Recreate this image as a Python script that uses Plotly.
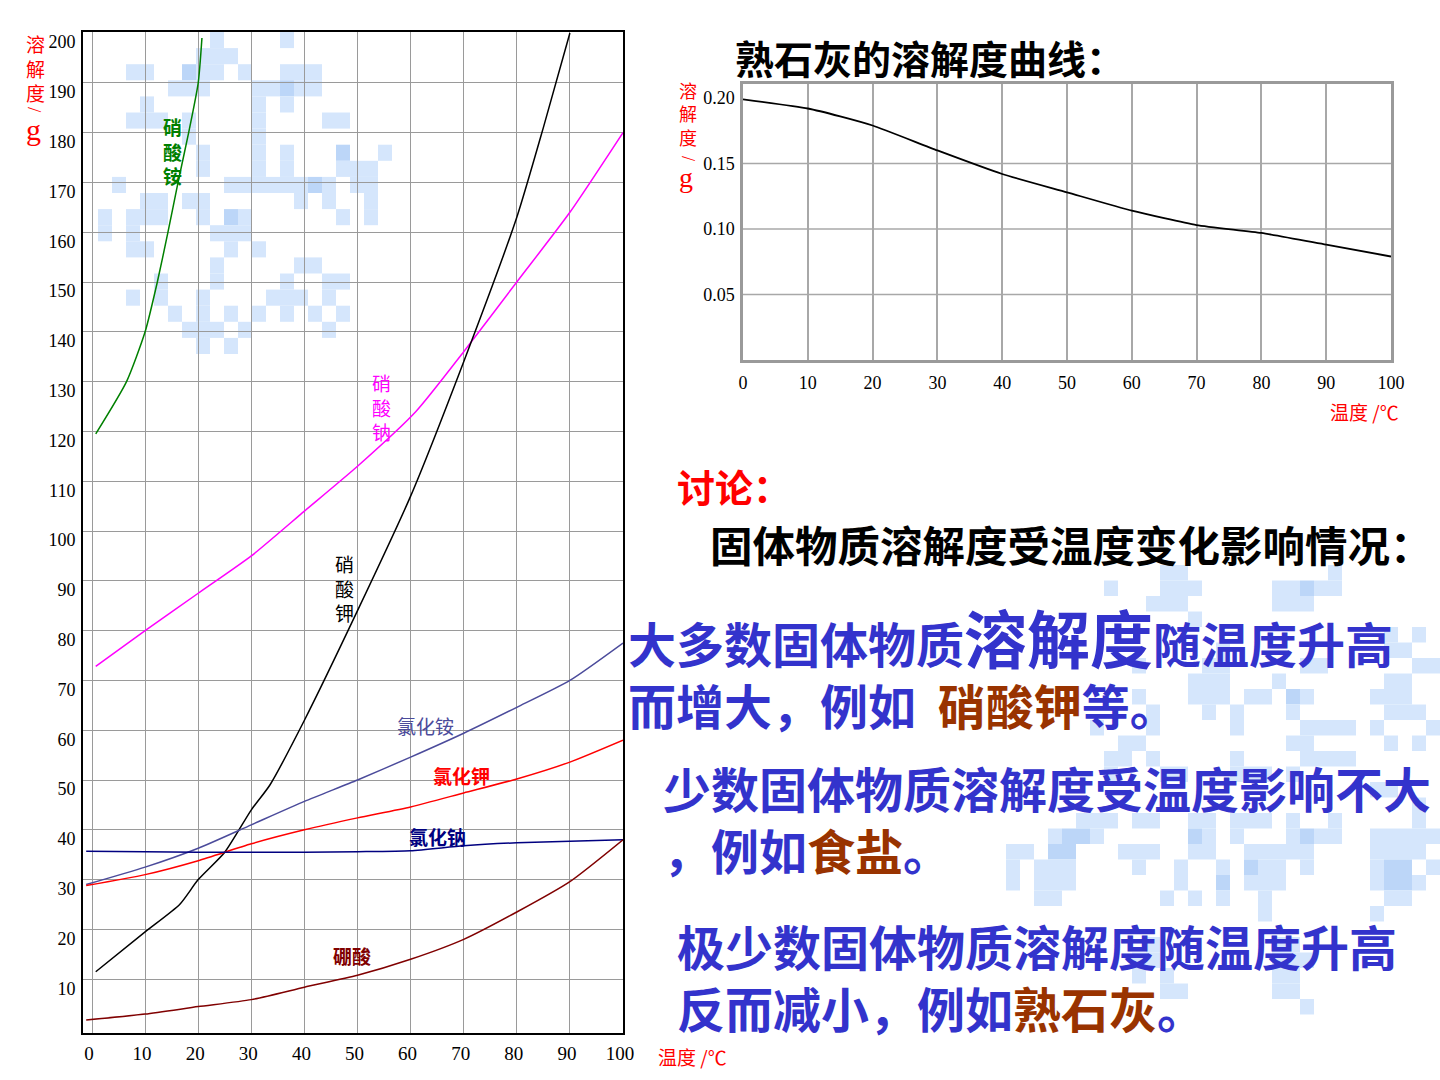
import plotly.graph_objects as go

W, H = 1440, 1080

# ---------------- data: left chart (solubility, g / 100 g water) ----------------
t_nh4no3 = [0.7, 6.5, 10, 12.3, 14.3, 16.2, 18.2, 20, 20.7]
s_nh4no3 = [119.5, 130, 140, 150, 160, 170, 180, 190, 199]

t_nano3 = [0.7, 10, 20, 30, 40, 50, 61, 70, 80, 90, 100]
s_nano3 = [72.8, 80, 87.5, 95, 104, 113, 124, 136, 150, 164, 180]

t_kno3 = [0.7, 10, 16.5, 20, 25, 30, 33.5, 40, 50, 60, 70, 80, 85, 90]
s_kno3 = [11.5, 19.5, 25, 30, 35.5, 44, 49, 62, 84, 107, 134, 163, 181, 200]

t_common = [-1.1, 10, 20, 30, 40, 50, 60, 70, 80, 90, 100]
s_nh4cl = [29, 32.5, 36.3, 41, 45.7, 50, 54.6, 59.4, 64.6, 70, 77.5]
s_kcl = [28.8, 31, 33.8, 37.2, 40, 42.4, 44.6, 47.4, 50.2, 53.6, 58]
s_nacl = [35.7, 35.6, 35.5, 35.5, 35.5, 35.6, 35.8, 36.8, 37.4, 37.7, 38]
s_h3bo3 = [1.8, 3, 4.5, 5.9, 8.4, 10.8, 14, 18, 23.5, 29.6, 38]

left_xticks = [0, 10, 20, 30, 40, 50, 60, 70, 80, 90, 100]
left_yticks = [10, 20, 30, 40, 50, 60, 70, 80, 90, 100, 110, 120, 130, 140,
               150, 160, 170, 180, 190, 200]

# curve name labels: (text, x, y, colour, bold, vertical)
curve_labels = [
    ("硝酸铵", 15.1, 176.3, "#008000", True, True),
    ("硝酸钠", 54.5, 125.0, "#FF00FF", False, True),
    ("硝酸钾", 47.6, 88.6, "#000000", False, True),
    ("氯化铵", 62.8, 61.0, "#4B4B9B", False, False),
    ("氯化钾", 69.6, 50.9, "#FF0000", True, False),
    ("氯化钠", 65.1, 38.6, "#000080", True, False),
    ("硼酸", 49.0, 14.7, "#800000", True, False),
]

# ---------------- data: right chart (熟石灰) ----------------
t_caoh2 = [0, 10, 15, 20, 30, 40, 50, 60, 70, 80, 90, 100]
s_caoh2 = [0.199, 0.192, 0.186, 0.179, 0.160, 0.142, 0.128, 0.114, 0.103,
           0.097, 0.088, 0.079]
right_xticks = [0, 10, 20, 30, 40, 50, 60, 70, 80, 90, 100]
right_yticks = [0.05, 0.10, 0.15, 0.20]

SERIF = "Liberation Serif, Times New Roman, serif"
CJK = "Noto Sans CJK SC, sans-serif"
BLUE = "#3333CC"
BROWN = "#993300"


def px(x):
    return x / W


def py(y):
    return 1 - y / H


fig = go.Figure()

series = [
    (t_nh4no3, s_nh4no3, "#008000"),
    (t_nano3, s_nano3, "#FF00FF"),
    (t_kno3, s_kno3, "#000000"),
    (t_common, s_nh4cl, "#4B4B9B"),
    (t_common, s_kcl, "#FF0000"),
    (t_common, s_nacl, "#000080"),
    (t_common, s_h3bo3, "#800000"),
]
for tx, sy, col in series:
    fig.add_trace(go.Scatter(x=tx, y=sy, mode="lines",
                             line=dict(color=col, width=1.5, shape="spline", smoothing=0.6),
                             xaxis="x", yaxis="y", showlegend=False, hoverinfo="skip"))

fig.add_trace(go.Scatter(x=t_caoh2, y=s_caoh2, mode="lines",
                         line=dict(color="#000000", width=1.8, shape="spline", smoothing=0.5),
                         xaxis="x2", yaxis="y2", showlegend=False, hoverinfo="skip"))

# ---------------- background mosaic (decoration) ----------------
shapes = []
LIGHT = "#D5E6FC"
DARK = "#BCD6F8"
left_cells = {
    0: [9, 14], 1: [8, 9, 10], 2: [3, 4, 7, 8, 9, 11, 14, 15, 16],
    3: [6, 7, 8, 12, 13, 14, 15, 16], 4: [4, 12, 14], 5: [3, 4, 5, 7, 12, 17, 18],
    6: [7, 12], 7: [8, 12, 14, 18, 21], 8: [8, 12, 14, 18, 19, 20],
    9: [2, 10, 11, 12, 13, 14, 15, 16, 17, 19, 20], 10: [4, 5, 7, 8, 15, 17, 20],
    11: [1, 3, 4, 5, 8, 10, 11, 18, 20], 12: [1, 3, 9, 10, 11], 13: [3, 4, 10, 12],
    14: [9, 15, 16], 15: [5, 9, 14, 17, 18], 16: [3, 5, 8, 13, 14, 15, 17],
    17: [6, 8, 10, 12, 14, 16, 18], 18: [7, 8, 9, 11, 17], 19: [8, 10],
}
left_dark = {(2, 7), (3, 14), (7, 18), (9, 16), (11, 10)}
right_cells = {
    0: [11, 12, 23], 1: [7, 11, 12, 13, 19, 20, 21, 22, 23], 2: [10, 11, 12, 19, 20, 21],
    3: [13], 4: [27, 29], 5: [15, 27, 28], 6: [9, 14, 15, 21, 22, 29, 30],
    7: [13, 14, 15, 19, 27, 28], 8: [9, 13, 14, 15, 17, 18, 20, 21, 26, 27, 28],
    9: [10, 14, 16, 20, 27, 28, 29], 10: [6, 10, 16, 21, 22, 23, 24, 26, 30],
    11: [8, 9, 20, 21, 27, 29], 12: [7, 8, 10, 16, 21, 22, 23, 24],
    13: [7, 11, 12, 16, 17, 18, 20], 14: [26, 27], 15: [29],
    16: [5, 6, 7, 9, 10, 13, 14, 16, 17, 18, 20, 23, 29],
    17: [3, 4, 5, 6, 13, 14, 16, 20, 21, 22, 23, 26, 27, 28, 29, 30],
    18: [0, 1, 3, 4, 8, 9, 10, 13, 14, 17, 18, 19, 20, 21, 26, 27, 28, 29],
    19: [0, 2, 3, 4, 9, 12, 15, 17, 18, 19, 21, 26, 27, 28, 30],
    20: [0, 2, 3, 4, 12, 15, 17, 18, 19, 26, 27, 28, 29],
    21: [2, 3, 11, 13, 15, 18, 27, 28], 22: [18, 26],
    24: [10, 19, 20], 25: [9, 10, 19, 20, 21], 26: [9, 11, 19, 20],
    27: [11, 12, 19, 20], 28: [21],
}
right_dark = {(1, 21), (17, 4), (17, 5), (17, 13), (17, 21), (18, 3), (18, 4),
              (19, 17), (19, 27), (19, 28), (20, 15), (20, 27), (20, 28), (8, 20)}


def add_mosaic(cells, dark, x0, y0, cw, ch):
    for r, cols in cells.items():
        for c in cols:
            xa = x0 + c * cw
            ya = y0 + r * ch
            shapes.append(dict(type="rect", xref="paper", yref="paper", layer="below",
                               x0=px(xa), x1=px(xa + cw), y0=py(ya + ch), y1=py(ya),
                               line=dict(width=0),
                               fillcolor=DARK if (r, c) in dark else LIGHT))


add_mosaic(left_cells, left_dark, 84, 32, 14, 16.1)
add_mosaic(right_cells, right_dark, 1006, 565, 14, 15.5)

# horizontal grid lines of the right chart
for v in [0.05, 0.10, 0.15]:
    shapes.append(dict(type="line", xref="x2 domain", yref="y2", x0=0, x1=1, y0=v, y1=v,
                       line=dict(color="#A8A8A8", width=1.5), layer="below"))

# ---------------- annotations ----------------
ann = []
for text, x, y, col, bold, vert in curve_labels:
    t = "<br>".join(text) if vert else text
    ann.append(dict(x=x, y=y, xref="x", yref="y", text=t, showarrow=False,
                    font=dict(family=CJK, size=19, color=col,
                              weight="bold" if bold else "normal"),
                    xanchor="center", yanchor="middle"))


# axis titles (stacked characters)
def stacked_title(xc, yc3, yslash, yg, size, gsize):
    ann.append(dict(x=px(xc), y=py(yc3), xref="paper", yref="paper",
                    text="溶<br>解<br>度", showarrow=False,
                    font=dict(family=CJK, size=size, color="#FF0000"),
                    xanchor="center", yanchor="middle"))
    ann.append(dict(x=px(xc), y=py(yslash), xref="paper", yref="paper", text="/",
                    showarrow=False, textangle=90,
                    font=dict(family=SERIF, size=size, color="#FF0000"),
                    xanchor="center", yanchor="middle"))
    ann.append(dict(x=px(xc - 2), y=py(yg), xref="paper", yref="paper", text="g",
                    showarrow=False, font=dict(family=SERIF, size=gsize, color="#FF0000"),
                    xanchor="center", yanchor="middle"))


stacked_title(35, 68, 110, 129, 19, 30)
stacked_title(688, 113, 158, 178, 18, 28)

ann.append(dict(x=px(692), y=py(1056), xref="paper", yref="paper", text="温度 /℃",
                showarrow=False, font=dict(family=CJK, size=19, color="#FF0000"),
                xanchor="center", yanchor="middle"))
ann.append(dict(x=px(1364), y=py(411), xref="paper", yref="paper", text="温度 /℃",
                showarrow=False, font=dict(family=CJK, size=19, color="#FF0000"),
                xanchor="center", yanchor="middle"))


def text_block(x, y, text, size, color, bold=False):
    ann.append(dict(x=px(x), y=py(y), xref="paper", yref="paper", text=text,
                    showarrow=False, align="left",
                    font=dict(family=CJK, size=size, color=color,
                              weight="bold" if bold else "normal"),
                    xanchor="left", yanchor="middle"))


text_block(733, 57, "熟石灰的溶解度曲线：", 39, "#000000", bold=True)
text_block(675, 485, "讨论：", 38, "#FF0000", bold=True)
text_block(708, 543, "固体物质溶解度受温度变化影响情况：", 42.5, "#000000", bold=True)
text_block(626, 664,
           "大多数固体物质<span style='font-size:63px'>溶解度</span>随温度升高<br>"
           "而增大，例如  <span style='color:%s'>硝酸钾</span>等。" % BROWN, 48, BLUE, bold=True)
text_block(661, 818,
           "少数固体物质溶解度受温度影响不大<br>"
           "，例如<span style='color:%s'>食盐</span>。" % BROWN, 48, BLUE, bold=True)
text_block(675, 976,
           "极少数固体物质溶解度随温度升高<br>"
           "反而减小，例如<span style='color:%s'>熟石灰</span>。" % BROWN, 48, BLUE, bold=True)

# ---------------- layout ----------------
fig.update_layout(
    width=W, height=H,
    margin=dict(l=0, r=0, t=0, b=0),
    paper_bgcolor="white",
    plot_bgcolor="rgba(0,0,0,0)",
    showlegend=False,
    shapes=shapes,
    annotations=ann,
    xaxis=dict(domain=[px(83), px(623)], range=[-1.7, 100], tickvals=left_xticks,
               showgrid=True, gridcolor="#9A9A9A", gridwidth=1, zeroline=False,
               showline=True, linecolor="#000000", linewidth=2, mirror=True,
               ticks="", tickfont=dict(family=SERIF, size=19, color="#000000"),
               ticklabelstandoff=2, ticklabelshift=-3, anchor="y", automargin=False),
    yaxis=dict(domain=[py(1033), py(32)], range=[-0.8, 200.2], tickvals=left_yticks,
               showgrid=True, gridcolor="#9A9A9A", gridwidth=1, zeroline=False,
               showline=True, linecolor="#000000", linewidth=2, mirror=True,
               ticks="", tickfont=dict(family=SERIF, size=18, color="#000000"),
               ticklabelshift=9, ticklabelstandoff=2, anchor="x", automargin=False),
    xaxis2=dict(domain=[px(743), px(1391)], range=[0, 100], tickvals=right_xticks,
                showgrid=True, gridcolor="#A8A8A8", gridwidth=1.5, zeroline=False,
                showline=True, linecolor="#9A9A9A", linewidth=2.5, mirror=True,
                ticks="", tickfont=dict(family=SERIF, size=18, color="#000000"),
                ticklabelstandoff=5, anchor="y2", automargin=False),
    yaxis2=dict(domain=[py(360), py(84)], range=[0, 0.2107], tickvals=right_yticks,
                ticktext=["0.05", "0.10", "0.15", "0.20"],
                showgrid=False, zeroline=False,
                showline=True, linecolor="#9A9A9A", linewidth=2.5, mirror=True,
                ticks="", tickfont=dict(family=SERIF, size=18, color="#000000"),
                ticklabelstandoff=2, anchor="x2", automargin=False),
)

fig.write_html("out.html")
